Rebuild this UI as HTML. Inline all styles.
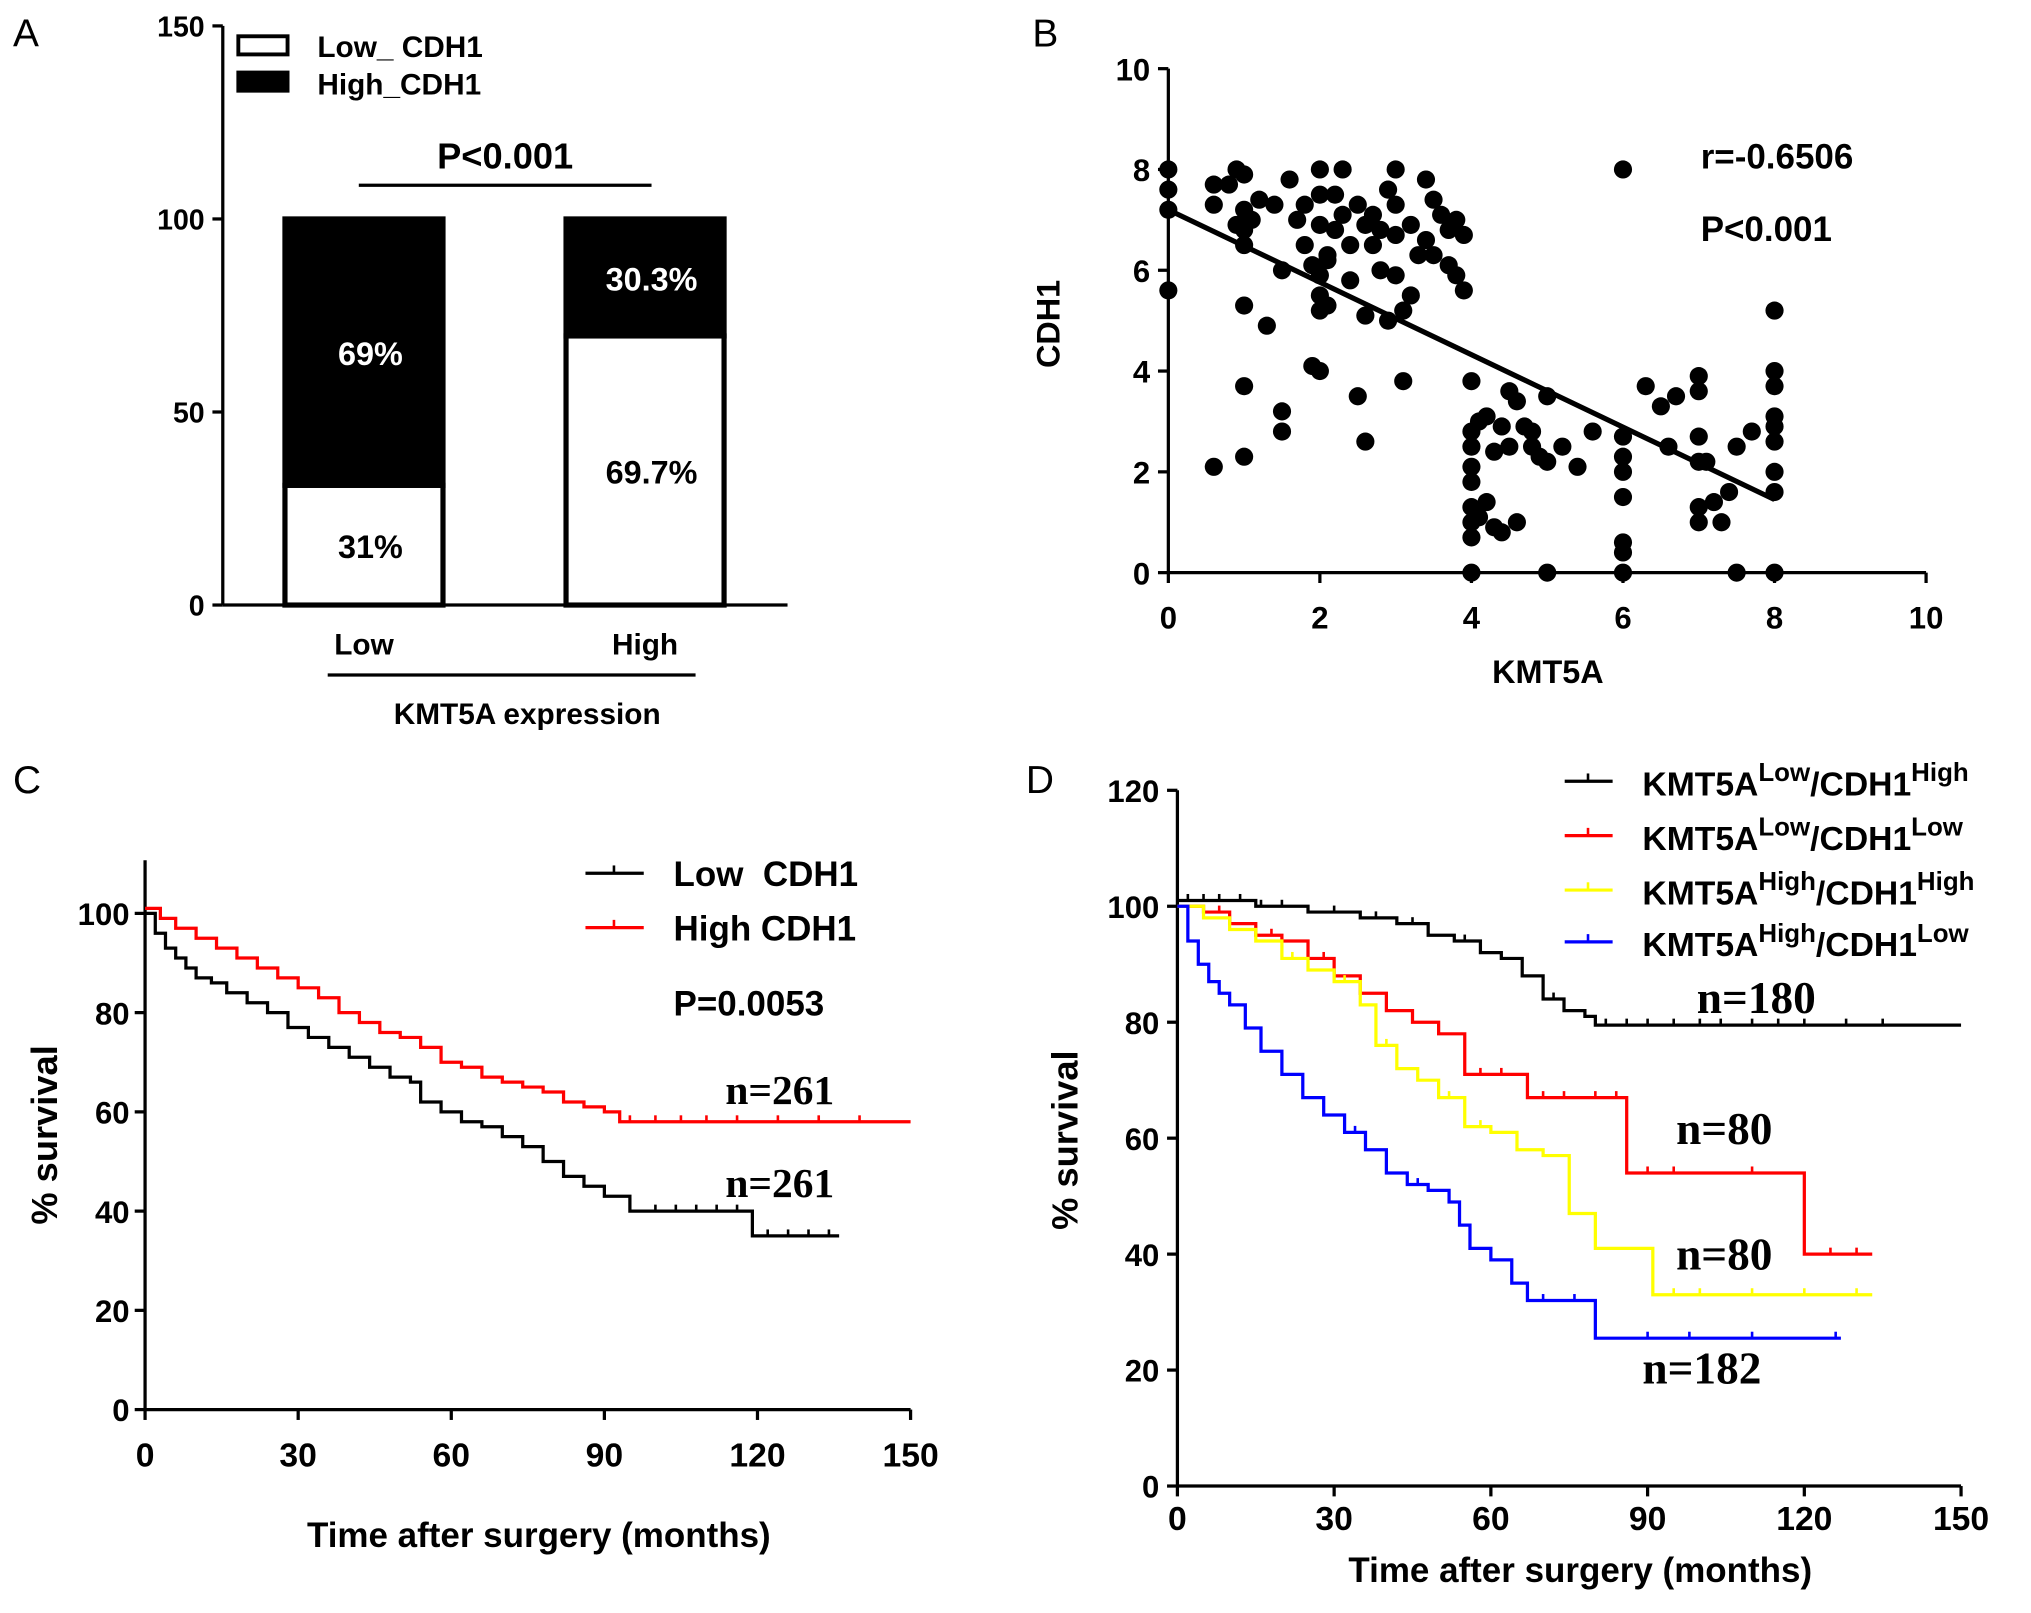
<!DOCTYPE html>
<html><head><meta charset="utf-8"><style>
html,body{margin:0;padding:0;background:#fff;}
svg{display:block;font-family:"Liberation Sans",Arial,sans-serif;}
</style></head><body>
<svg id="s" width="2031" height="1613" viewBox="0 0 1568 1245" preserveAspectRatio="none" xmlns="http://www.w3.org/2000/svg">
<g id="A"></g>
<g id="B"></g>
<g id="C"></g>
<g id="D"></g>
</svg>
<script>
// ---- Panel A data ----
const aCats=["Low","High"];
const aLowPct=[31,69.7];
const aHighPct=[69,30.3];
const aLowLbl=["31%","69.7%"];
const aHighLbl=["69%","30.3%"];
const aTicks=[0,50,100,150];
// ---- Panel B data ----
const bX=[0,0,0,0,0.6,0.6,0.6,0.8,0.9,1,1,1,1,1,1,1,1.1,1.2,1.3,1.4,1.5,1.5,1.6,1.7,1.8,1.9,2,2,2,2,2,2,2,2.1,2.1,2.2,2.2,2.3,2.3,2.4,2.4,2.5,2.5,2.6,2.6,2.7,2.7,2.8,2.8,2.9,2.9,3,3,3,3,3.1,3.1,3.2,3.2,3.3,3.4,3.4,3.5,3.5,3.6,3.7,3.7,3.8,3.8,3.9,3.9,4,4,4,4,4,4,4,4,4,4.1,4.1,4.2,4.2,4.3,4.3,4.4,4.4,4.5,4.5,4.6,4.6,4.7,4.8,4.8,4.9,5,5,5,5.2,5.4,5.6,6,6,6,6,6,6,6,6.3,6.5,6.6,6.7,7,7,7,7,7,7,7.1,7.2,7.3,7.4,7.5,7.5,7.7,8,8,8,8,8,8,8,8,8,1.9,2.1,1.8,2.6,0.9,1.5,6];
const bY=[8,7.6,7.2,5.6,7.7,7.3,2.1,7.7,8,7.9,7.2,6.8,6.5,5.3,3.7,2.3,7.0,7.4,4.9,7.3,6,2.8,7.8,7,7.3,6.1,8,7.5,6.9,5.9,5.5,5.2,4.0,6.2,5.3,7.5,6.8,8,7.1,6.5,5.8,7.3,3.5,6.9,5.1,7.1,6.5,6.8,6.0,7.6,5.0,8,7.3,6.7,5.9,5.2,3.8,6.9,5.5,6.3,7.8,6.6,7.4,6.3,7.1,6.8,6.1,7.0,5.9,6.7,5.6,3.8,2.8,2.5,2.1,1.8,1.3,1.0,0.7,0,3.0,1.1,3.1,1.4,2.4,0.9,2.9,0.8,3.6,2.5,3.4,1.0,2.9,2.8,2.5,2.3,3.5,2.2,0,2.5,2.1,2.8,2.7,2.3,2.0,1.5,0.6,0.4,0,3.7,3.3,2.5,3.5,3.9,3.6,2.7,2.2,1.3,1.0,2.2,1.4,1.0,1.6,0,2.5,2.8,5.2,4.0,3.7,3.1,2.9,2.6,2.0,1.6,0,4.1,6.3,6.5,2.6,6.9,3.2,8];
const bTicks=[0,2,4,6,8,10];
const bFit=[7.2,1.45];
// ---- Panel C data ----
const cLowT=[0,2,4,6,8,10,13,16,20,24,28,32,36,40,44,48,52,54,58,62,66,70,74,78,82,86,90,95,118,119,136];
const cLowS=[100,96,93,91,89,87,86,84,82,80,77,75,73,71,69,67,66,62,60,58,57,55,53,50,47,45,43,40,40,35,35];
const cHighT=[0,3,6,10,14,18,22,26,30,34,38,42,46,50,54,58,62,66,70,74,78,82,86,90,93,150];
const cHighS=[101,99,97,95,93,91,89,87,85,83,80,78,76,75,73,70,69,67,66,65,64,62,61,60,58,58];
const cLowCens=[100,104,108,112,116,122,126,130,134];
const cHighCens=[95,100,105,110,116,124,132,140];
const cXT=[0,30,60,90,120,150];
const cYT=[0,20,40,60,80,100];
// ---- Panel D data ----
const dBlkT=[0,15,25,35,42,48,53,58,62,66,70,74,78,80,150];
const dBlkS=[101,100,99,98,97,95,94,92,91,88,84,82,81,79.5,79.5];
const dRedT=[0,5,10,15,20,25,30,35,40,45,50,55,60,67,76,86,120,133];
const dRedS=[100,99,97,95,94,91,88,85,82,80,78,71,71,67,67,54,40,40];
const dYelT=[0,5,10,15,20,25,30,35,38,42,46,50,55,60,65,70,75,80,86,91,133];
const dYelS=[100,98,96,94,91,89,87,83,76,72,70,67,62,61,58,57,47,41,41,33,33];
const dBluT=[0,2,4,6,8,10,13,16,20,24,28,32,36,40,44,48,52,54,56,60,64,67,72,80,127];
const dBluS=[100,94,90,87,85,83,79,75,71,67,64,61,58,54,52,51,49,45,41,39,35,32,32,25.5,25.5];
const dXT=[0,30,60,90,120,150];
const dYT=[0,20,40,60,80,100,120];

const NS="http://www.w3.org/2000/svg";
function mk(p,tag,at,txt){const e=document.createElementNS(NS,tag);for(const k in at)e.setAttribute(k,at[k]);if(txt!==undefined)e.textContent=txt;p.appendChild(e);return e;}
function txt(p,x,y,s,size,name,anchor,extra){const e=mk(p,"text",Object.assign({x:x,y:y,"font-size":size,"text-anchor":anchor||"middle","font-weight":"bold"},extra||{}),s);


return e;}
function ln(p,x1,y1,x2,y2,name,col,w){const e=mk(p,"line",{x1:x1,y1:y1,x2:x2,y2:y2,stroke:col||"#000","stroke-width":w||2.5});


return e;}

const S=document.getElementById("s");
[["A",10,36],["B",797,36],["C",10,612],["D",792,612]].forEach(l=>{txt(S,l[1],l[2],l[0],30,"panel-letter-"+l[0].toLowerCase(),"start",{"font-weight":"normal"});});

// ---- A ----
(function(){const g=document.getElementById("A");
const y=v=>467-v*(447/150);
ln(g,172,20,172,467,"y-axis");ln(g,172,467,608,467,"x-axis");
aTicks.forEach(t=>{ln(g,164,y(t),172,y(t),"y-tick");txt(g,158,y(t)+8,t,22,"y-tick-label","end");});
const cx=[281,498];
aCats.forEach((c,i)=>{
 const x0=cx[i]-61,w=122;
 const r1=mk(g,"rect",{x:x0,y:y(aLowPct[i]),width:w,height:y(0)-y(aLowPct[i]),fill:"#fff",stroke:"#000","stroke-width":4});
 
 
 const r2=mk(g,"rect",{x:x0,y:y(aLowPct[i]+aHighPct[i]),width:w,height:y(aLowPct[i])-y(aLowPct[i]+aHighPct[i]),fill:"#000",stroke:"#000","stroke-width":4});
 
 
 txt(g,cx[i]+5,(y(0)+y(aLowPct[i]))/2+10,aLowLbl[i],25,"bar-value-low");
 txt(g,cx[i]+5,(y(aLowPct[i])+y(aLowPct[i]+aHighPct[i]))/2+10,aHighLbl[i],25,"bar-value-high","middle",{fill:"#fff"});
 txt(g,cx[i],505,c,23,"x-category-label");
});
ln(g,253,521,537,521,"group-line");
txt(g,407,559,"KMT5A expression",23,"x-axis-title");
ln(g,277,143,503,143,"significance-bar");
txt(g,390,130,"P<0.001",28,"p-value");
const l1=mk(g,"rect",{x:184,y:28,width:38,height:14,fill:"#fff",stroke:"#000","stroke-width":3});
const l2=mk(g,"rect",{x:184,y:56,width:38,height:14,fill:"#000",stroke:"#000","stroke-width":3});
txt(g,245,44,"Low_ CDH1",23,"legend-label-low","start");
txt(g,245,73,"High_CDH1",23,"legend-label-high","start");
})();

// ---- B ----
(function(){const g=document.getElementById("B");
const x=v=>902+v*58.5,y=v=>442-v*38.9;
ln(g,902,53,902,442,"y-axis");ln(g,902,442,1487,442,"x-axis");
bTicks.forEach(t=>{ln(g,894,y(t),902,y(t),"y-tick");txt(g,888,y(t)+9,t,24,"y-tick-label","end");
 ln(g,x(t),442,x(t),450,"x-tick");txt(g,x(t),485,t,24,"x-tick-label");});
bX.forEach((v,i)=>{const c=mk(g,"circle",{cx:x(v),cy:y(bY[i]),r:7,fill:"#000"});
 
 });
ln(g,x(0),y(bFit[0]),x(8),y(bFit[1]),"regression-line","#000",4);
txt(g,1195,527,"KMT5A",25,"x-axis-title");
txt(g,818,250,"CDH1",25,"y-axis-title","middle",{transform:"rotate(-90 818 250)"});
txt(g,1313,130,"r=-0.6506",27,"r-value","start");
txt(g,1313,186,"P<0.001",27,"p-value","start");
})();

function km(g,T,Sv,x,y,col,name,cens){
 let d="M"+x(T[0])+","+y(Sv[0]);
 for(let i=1;i<T.length;i++){d+=" H"+x(T[i])+" V"+y(Sv[i]);}
 const p=mk(g,"path",{d:d,fill:"none",stroke:col,"stroke-width":2.5});
 
 
 (cens||[]).forEach(t=>{let s=Sv[0];for(let i=0;i<T.length;i++)if(T[i]<=t)s=Sv[i];
  ln(g,x(t),y(s)-5,x(t),y(s),name+"-censor",col,2);});
}

// ---- C ----
(function(){const g=document.getElementById("C");
const x=v=>112+v*(591/150),y=v=>1088-v*3.83;
ln(g,112,664,112,1088,"y-axis");ln(g,112,1088,703,1088,"x-axis");
cYT.forEach(t=>{ln(g,104,y(t),112,y(t),"y-tick");txt(g,100,y(t)+9,t,24,"y-tick-label","end");});
cXT.forEach(t=>{ln(g,x(t),1088,x(t),1096,"x-tick");txt(g,x(t),1132,t,26,"x-tick-label");});
km(g,cLowT,cLowS,x,y,"#000","low-cdh1-curve",cLowCens);
km(g,cHighT,cHighS,x,y,"#f00","high-cdh1-curve",cHighCens);
txt(g,416,1194,"Time after surgery (months)",27,"x-axis-title");
txt(g,44,876,"% survival",28,"y-axis-title","middle",{transform:"rotate(-90 44 876)"});
ln(g,452,674,497,674,"legend-line-low","#000");ln(g,474,668,474,674,"legend-tick","#000",2);
ln(g,452,716,497,716,"legend-line-high","#f00");ln(g,474,710,474,716,"legend-tick","#f00",2);
txt(g,520,684,"Low  CDH1",27,"legend-label-low","start",{style:"white-space:pre"});
txt(g,520,726,"High CDH1",27,"legend-label-high","start");
txt(g,520,784,"P=0.0053",27,"p-value","start");
txt(g,560,852,"n=261",32,"n-label-high","start",{"font-family":"Liberation Serif, serif"});
txt(g,560,924,"n=261",32,"n-label-low","start",{"font-family":"Liberation Serif, serif"});
})();

// ---- D ----
(function(){const g=document.getElementById("D");
const x=v=>909+v*(605/150),y=v=>1147-v*4.475;
ln(g,909,610,909,1147,"y-axis");ln(g,909,1147,1514,1147,"x-axis");
dYT.forEach(t=>{ln(g,901,y(t),909,y(t),"y-tick");txt(g,895,y(t)+9,t,24,"y-tick-label","end");});
dXT.forEach(t=>{ln(g,x(t),1147,x(t),1155,"x-tick");txt(g,x(t),1181,t,26,"x-tick-label");});
km(g,dBlkT,dBlkS,x,y,"#000","kmt5a-low-cdh1-high-curve",[2,5,8,12,16,20,30,38,45,55,62,72,82,86,90,95,100,104,110,115,120,128,135]);
km(g,dRedT,dRedS,x,y,"#f00","kmt5a-low-cdh1-low-curve",[8,18,28,45,58,62,70,74,80,84,90,95,110,125,130]);
km(g,dYelT,dYelS,x,y,"#ff0","kmt5a-high-cdh1-high-curve",[10,22,32,40,52,58,70,95,100,110,120,130]);
km(g,dBluT,dBluS,x,y,"#00f","kmt5a-high-cdh1-low-curve",[24,34,46,60,70,76,90,98,110,126]);
txt(g,1220,1221,"Time after surgery (months)",27,"x-axis-title");
txt(g,832,880,"% survival",28,"y-axis-title","middle",{transform:"rotate(-90 832 880)"});
const leg=[["#000","Low","High",603],["#f00","Low","Low",645],["#ff0","High","High",687],["#00f","High","Low",727]];
leg.forEach((l,i)=>{ln(g,1208,l[3],1245,l[3],"legend-line",l[0]);ln(g,1226,l[3]-6,1226,l[3],"legend-tick",l[0],2);
 const t=txt(g,1268,l[3]+11,"",26,"legend-label","start");
 mk(t,"tspan",{},"KMT5A");mk(t,"tspan",{"font-size":20,dy:-11},l[1]);mk(t,"tspan",{dy:11},"/CDH1");mk(t,"tspan",{"font-size":20,dy:-11},l[2]);});
const sf={"font-family":"Liberation Serif, serif"};
txt(g,1310,782,"n=180",35,"n-label-black","start",sf);
txt(g,1294,883,"n=80",35,"n-label-red","start",sf);
txt(g,1294,980,"n=80",35,"n-label-yellow","start",sf);
txt(g,1268,1068,"n=182",35,"n-label-blue","start",sf);
})();
</script>
</body></html>
